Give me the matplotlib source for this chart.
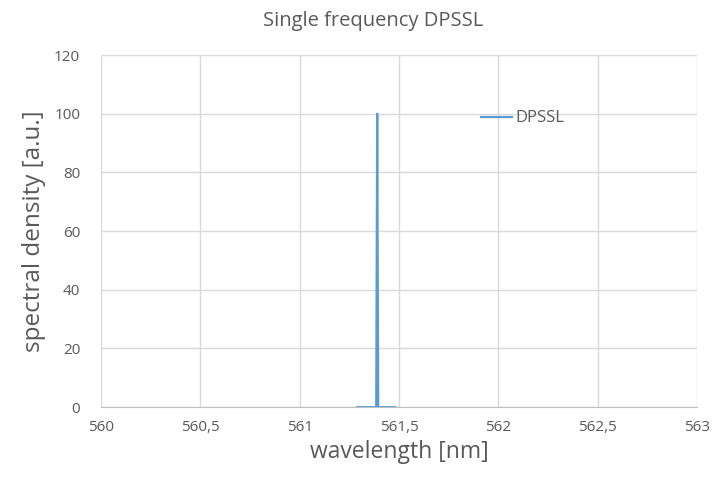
import matplotlib.pyplot as plt

wavelength = [561.29, 561.385, 561.39, 561.395, 561.48]
density = [0, 0, 100, 0, 0]
xticks = [560, 560.5, 561, 561.5, 562, 562.5, 563]
xticklabels = ['560', '560,5', '561', '561,5', '562', '562,5', '563']
yticks = [0, 20, 40, 60, 80, 100, 120]

plt.rcParams['font.family'] = ['Open Sans', 'DejaVu Sans']
txt = '#595959'

fig = plt.figure(figsize=(7.13, 4.83), dpi=100)
ax = fig.add_axes([0.1417, 0.157, 0.836, 0.729])

ax.plot(wavelength, density, color='#5b9bd5', lw=1.6, label='DPSSL')

ax.set_xlim(560, 563)
ax.set_ylim(0, 120)
ax.set_xticks(xticks)
ax.set_xticklabels(xticklabels)
ax.set_yticks(yticks)
ax.grid(True, color='#d9d9d9', lw=1)
ax.set_axisbelow(True)
for s in ['top', 'right', 'left']:
    ax.spines[s].set_visible(False)
ax.spines['bottom'].set_color('#bfbfbf')
ax.tick_params(length=0, colors=txt, labelsize=11)
ax.tick_params(axis='x', pad=9)
ax.tick_params(axis='y', pad=15)

ax.set_xlabel('wavelength [nm]', fontsize=16.5, color=txt, labelpad=4)
ax.set_ylabel('spectral density [a.u.]', fontsize=17.5, color=txt, labelpad=6)
fig.suptitle('Single frequency DPSSL', fontsize=14.5, color=txt, x=0.523, y=0.978)

ax.legend(loc='center left', bbox_to_anchor=(0.612, 0.82), frameon=False,
          handlelength=1.9, handletextpad=0.15, labelcolor=txt, fontsize=12)

fig.savefig('out.png')
